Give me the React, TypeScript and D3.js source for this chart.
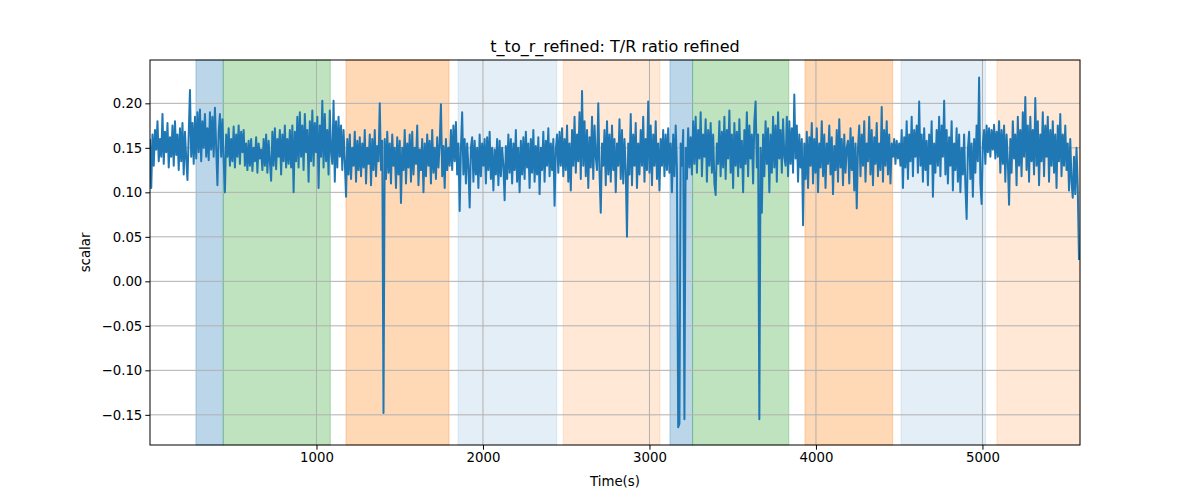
import React, { useEffect, useRef } from 'react';
import * as d3 from 'd3';

// seconds between two samples of the ratio
const sampleStep = 7.5;

const ratioValues = [
  0.160, 0.105, 0.165, 0.130, 0.170, 0.148, 0.180, 0.135, 0.160, 0.140,
  0.188, 0.132, 0.168, 0.145, 0.178, 0.128, 0.162, 0.140, 0.175, 0.130,
  0.180, 0.142, 0.165, 0.125, 0.172, 0.135, 0.178, 0.120, 0.168, 0.138,
  0.114, 0.165, 0.215, 0.140, 0.178, 0.132, 0.185, 0.138, 0.190, 0.145,
  0.193, 0.135, 0.180, 0.150, 0.188, 0.140, 0.172, 0.136, 0.190, 0.148,
  0.185, 0.140, 0.195, 0.150, 0.108, 0.168, 0.188, 0.140, 0.182, 0.135,
  0.100, 0.165, 0.140, 0.172, 0.130, 0.160, 0.135, 0.174, 0.128, 0.165,
  0.140, 0.175, 0.132, 0.168, 0.145, 0.170, 0.130, 0.155, 0.125, 0.158,
  0.130, 0.160, 0.124, 0.150, 0.135, 0.162, 0.122, 0.155, 0.138, 0.148,
  0.125, 0.160, 0.130, 0.165, 0.122, 0.158, 0.135, 0.113, 0.168, 0.130,
  0.172, 0.126, 0.160, 0.140, 0.170, 0.120, 0.165, 0.135, 0.175, 0.128,
  0.160, 0.132, 0.170, 0.128, 0.175, 0.100, 0.168, 0.135, 0.185, 0.128,
  0.190, 0.140, 0.175, 0.125, 0.188, 0.145, 0.170, 0.112, 0.180, 0.135,
  0.192, 0.130, 0.178, 0.145, 0.185, 0.105, 0.175, 0.140, 0.203, 0.128,
  0.188, 0.135, 0.170, 0.120, 0.192, 0.145, 0.132, 0.203, 0.112, 0.180,
  0.128, 0.185, 0.140, 0.175, 0.125, 0.170, 0.135, 0.095, 0.160, 0.120,
  0.165, 0.115, 0.150, 0.130, 0.168, 0.112, 0.158, 0.125, 0.162, 0.118,
  0.155, 0.128, 0.170, 0.110, 0.150, 0.132, 0.165, 0.108, 0.160, 0.125,
  0.170, 0.118, 0.152, 0.135, 0.200, 0.125, 0.158, -0.148, 0.160, 0.115,
  0.168, 0.122, 0.155, 0.110, 0.165, 0.130, 0.150, 0.105, 0.162, 0.120,
  0.158, 0.088, 0.150, 0.125, 0.170, 0.110, 0.155, 0.128, 0.165, 0.112,
  0.168, 0.120, 0.150, 0.132, 0.175, 0.108, 0.148, 0.125, 0.160, 0.100,
  0.155, 0.118, 0.165, 0.130, 0.158, 0.110, 0.170, 0.122, 0.150, 0.115,
  0.162, 0.128, 0.155, 0.199, 0.118, 0.152, 0.105, 0.160, 0.125, 0.150,
  0.130, 0.170, 0.125, 0.175, 0.135, 0.179, 0.120, 0.155, 0.079, 0.150,
  0.190, 0.120, 0.160, 0.110, 0.155, 0.128, 0.083, 0.150, 0.162, 0.112,
  0.158, 0.120, 0.150, 0.105, 0.165, 0.118, 0.155, 0.130, 0.160, 0.110,
  0.162, 0.125, 0.168, 0.115, 0.150, 0.102, 0.148, 0.120, 0.160, 0.108,
  0.158, 0.118, 0.150, 0.130, 0.091, 0.152, 0.115, 0.165, 0.122, 0.160,
  0.110, 0.155, 0.125, 0.170, 0.112, 0.150, 0.100, 0.158, 0.120, 0.162,
  0.115, 0.168, 0.128, 0.155, 0.105, 0.160, 0.122, 0.170, 0.112, 0.152,
  0.120, 0.162, 0.098, 0.150, 0.125, 0.168, 0.112, 0.158, 0.130, 0.172,
  0.118, 0.155, 0.125, 0.160, 0.085, 0.148, 0.165, 0.122, 0.168, 0.130,
  0.172, 0.118, 0.160, 0.125, 0.175, 0.112, 0.155, 0.102, 0.170, 0.130,
  0.185, 0.122, 0.165, 0.135, 0.190, 0.115, 0.214, 0.130, 0.180, 0.118,
  0.170, 0.105, 0.162, 0.128, 0.185, 0.115, 0.175, 0.140, 0.125, 0.200,
  0.122, 0.077, 0.155, 0.130, 0.170, 0.108, 0.180, 0.120, 0.165, 0.112,
  0.175, 0.125, 0.160, 0.100, 0.155, 0.130, 0.182, 0.115, 0.170, 0.110,
  0.160, 0.125, 0.050, 0.155, 0.120, 0.188, 0.108, 0.165, 0.130, 0.178,
  0.105, 0.155, 0.120, 0.170, 0.130, 0.185, 0.112, 0.160, 0.125, 0.202,
  0.122, 0.175, 0.108, 0.165, 0.130, 0.180, 0.115, 0.155, 0.102, 0.160,
  0.130, 0.170, 0.118, 0.165, 0.125, 0.172, 0.122, 0.155, 0.100, 0.165,
  0.118, 0.175, 0.128, -0.164, -0.160, 0.155, 0.130, 0.170, -0.155, 0.150,
  0.115, 0.172, 0.128, 0.162, 0.120, 0.180, 0.132, 0.185, 0.122, 0.170,
  0.138, 0.190, 0.118, 0.165, 0.140, 0.182, 0.112, 0.170, 0.130, 0.178,
  0.122, 0.165, 0.110, 0.097, 0.155, 0.132, 0.180, 0.118, 0.168, 0.128,
  0.185, 0.115, 0.170, 0.138, 0.192, 0.122, 0.165, 0.105, 0.178, 0.130,
  0.168, 0.118, 0.182, 0.128, 0.158, 0.100, 0.170, 0.132, 0.190, 0.118,
  0.175, 0.138, 0.165, 0.110, 0.180, 0.202, 0.128, 0.165, -0.155, 0.150,
  0.077, 0.165, 0.118, 0.180, 0.132, 0.172, 0.100, 0.165, 0.122, 0.185,
  0.128, 0.175, 0.112, 0.190, 0.138, 0.170, 0.122, 0.182, 0.140, 0.130,
  0.185, 0.118, 0.180, 0.132, 0.172, 0.122, 0.210, 0.138, 0.175, 0.112,
  0.165, 0.128, 0.160, 0.063, 0.155, 0.115, 0.168, 0.105, 0.162, 0.130,
  0.178, 0.110, 0.160, 0.122, 0.172, 0.100, 0.155, 0.128, 0.180, 0.118,
  0.165, 0.105, 0.155, 0.132, 0.175, 0.120, 0.162, 0.098, 0.152, 0.125,
  0.170, 0.112, 0.182, 0.128, 0.160, 0.108, 0.165, 0.122, 0.150, 0.158,
  0.110, 0.172, 0.125, 0.162, 0.102, 0.155, 0.082, 0.150, 0.175, 0.118,
  0.165, 0.130, 0.180, 0.112, 0.155, 0.135, 0.185, 0.120, 0.170, 0.108,
  0.162, 0.132, 0.178, 0.118, 0.155, 0.125, 0.196, 0.112, 0.170, 0.130,
  0.180, 0.120, 0.165, 0.110, 0.155, 0.140, 0.160, 0.132, 0.158, 0.138,
  0.155, 0.130, 0.170, 0.105, 0.162, 0.128, 0.180, 0.115, 0.165, 0.135,
  0.185, 0.118, 0.170, 0.140, 0.175, 0.122, 0.202, 0.130, 0.165, 0.112,
  0.172, 0.125, 0.158, 0.108, 0.165, 0.132, 0.180, 0.095, 0.155, 0.122,
  0.170, 0.130, 0.185, 0.118, 0.175, 0.140, 0.203, 0.120, 0.170, 0.110,
  0.162, 0.130, 0.180, 0.102, 0.155, 0.125, 0.172, 0.112, 0.165, 0.100,
  0.150, 0.120, 0.165, 0.108, 0.070, 0.148, 0.168, 0.115, 0.155, 0.095,
  0.160, 0.122, 0.175, 0.135, 0.229, 0.110, 0.087, 0.155, 0.170, 0.132,
  0.175, 0.145, 0.172, 0.140, 0.170, 0.148, 0.176, 0.138, 0.168, 0.140,
  0.180, 0.122, 0.170, 0.132, 0.175, 0.112, 0.165, 0.135, 0.086, 0.160,
  0.122, 0.180, 0.138, 0.165, 0.108, 0.185, 0.130, 0.170, 0.118, 0.190,
  0.140, 0.207, 0.125, 0.175, 0.112, 0.185, 0.135, 0.170, 0.120, 0.206,
  0.130, 0.180, 0.108, 0.165, 0.135, 0.190, 0.118, 0.175, 0.140, 0.185,
  0.112, 0.170, 0.130, 0.180, 0.122, 0.165, 0.105, 0.175, 0.135, 0.188,
  0.118, 0.165, 0.130, 0.175, 0.125, 0.155, 0.102, 0.160, 0.112, 0.094,
  0.140, 0.098, 0.150, 0.105, 0.024,
];

// shaded phases
const spanStarts = [276, 440, 1177, 1850, 2482, 3123, 3259, 3934, 4511, 5087];
const spanEnds = [440, 1083, 1796, 2443, 3063, 3259, 3837, 4461, 5019, 5586];
const spanColors = ['#1f77b4', '#2ca02c', '#ff7f0e', '#1f77b4', '#ff7f0e', '#1f77b4', '#2ca02c', '#ff7f0e', '#1f77b4', '#ff7f0e'];
const spanAlphas = [0.3, 0.3, 0.3, 0.12, 0.17, 0.3, 0.3, 0.3, 0.12, 0.17];

const xTicks = [1000, 2000, 3000, 4000, 5000];
const yTicks = [0.2, 0.15, 0.1, 0.05, 0.0, -0.05, -0.1, -0.15];

const App: React.FC = () => {
  const svgRef = useRef<SVGSVGElement>(null);

  useEffect(() => {
    document.body.style.margin = '0';
    if (!svgRef.current) return;

    const svg = d3.select(svgRef.current);
    svg.selectAll('*').remove();

    const margin = { top: 60, right: 120, bottom: 55, left: 150 };
    const width = 1200 - margin.left - margin.right;
    const height = 500 - margin.top - margin.bottom;
    const font = '"DejaVu Sans", sans-serif';

    const x = d3.scaleLinear().domain([0, 5586]).range([0, width]);
    const y = d3.scaleLinear().domain([-0.1839, 0.2487]).range([height, 0]);

    const g = svg.append('g').attr('transform', `translate(${margin.left},${margin.top})`);

    g.append('defs').append('clipPath').attr('id', 'plot-clip')
      .append('rect').attr('width', width).attr('height', height);

    // phase spans
    g.append('g').selectAll('rect')
      .data(spanStarts)
      .enter()
      .append('rect')
      .attr('x', d => x(d))
      .attr('y', 0)
      .attr('width', (d, i) => x(spanEnds[i]) - x(d))
      .attr('height', height)
      .attr('fill', (_, i) => spanColors[i])
      .attr('fill-opacity', (_, i) => spanAlphas[i])
      .attr('stroke', (_, i) => spanColors[i])
      .attr('stroke-opacity', (_, i) => spanAlphas[i])
      .attr('stroke-width', 1);

    // grid
    g.append('g').selectAll('line')
      .data(xTicks)
      .enter()
      .append('line')
      .attr('x1', d => x(d)).attr('x2', d => x(d))
      .attr('y1', 0).attr('y2', height)
      .attr('stroke', '#b0b0b0').attr('stroke-width', 1);

    g.append('g').selectAll('line')
      .data(yTicks)
      .enter()
      .append('line')
      .attr('x1', 0).attr('x2', width)
      .attr('y1', d => y(d)).attr('y2', d => y(d))
      .attr('stroke', '#b0b0b0').attr('stroke-width', 1);

    const line = d3.line<number>()
      .x((_, i) => x(i * sampleStep))
      .y(d => y(d));

    g.append('path')
      .datum(ratioValues)
      .attr('clip-path', 'url(#plot-clip)')
      .attr('fill', 'none')
      .attr('stroke', '#1f77b4')
      .attr('stroke-width', 2)
      .attr('stroke-linejoin', 'round')
      .attr('d', line);

    const xAxis = g.append('g')
      .attr('transform', `translate(0,${height})`)
      .call(d3.axisBottom(x).tickValues(xTicks).tickSize(4.7).tickPadding(3).tickFormat(d3.format('d')));

    const yAxis = g.append('g')
      .call(d3.axisLeft(y).tickValues(yTicks).tickSize(4.7).tickPadding(3).tickFormat(d3.format('.2f')));

    [xAxis, yAxis].forEach(a => {
      a.select('.domain').remove();
      a.selectAll('line').attr('stroke', '#000').attr('stroke-width', 1);
      a.selectAll('text')
        .attr('fill', '#000')
        .style('font-family', font)
        .style('font-size', '13.3px');
    });

    g.append('rect')
      .attr('width', width)
      .attr('height', height)
      .attr('fill', 'none')
      .attr('stroke', '#000')
      .attr('stroke-width', 1);

    svg.append('text')
      .attr('x', margin.left + width / 2)
      .attr('y', 52)
      .attr('text-anchor', 'middle')
      .style('font-family', font)
      .style('font-size', '16px')
      .text('t_to_r_refined: T/R ratio refined');

    svg.append('text')
      .attr('x', margin.left + width / 2)
      .attr('y', 486)
      .attr('text-anchor', 'middle')
      .style('font-family', font)
      .style('font-size', '13.3px')
      .text('Time(s)');

    svg.append('text')
      .attr('transform', `translate(90,${margin.top + height / 2}) rotate(-90)`)
      .attr('text-anchor', 'middle')
      .style('font-family', font)
      .style('font-size', '13.3px')
      .text('scalar');
  }, []);

  return <svg ref={svgRef} width={1200} height={500} style={{ display: 'block' }}></svg>;
};

export default App;
